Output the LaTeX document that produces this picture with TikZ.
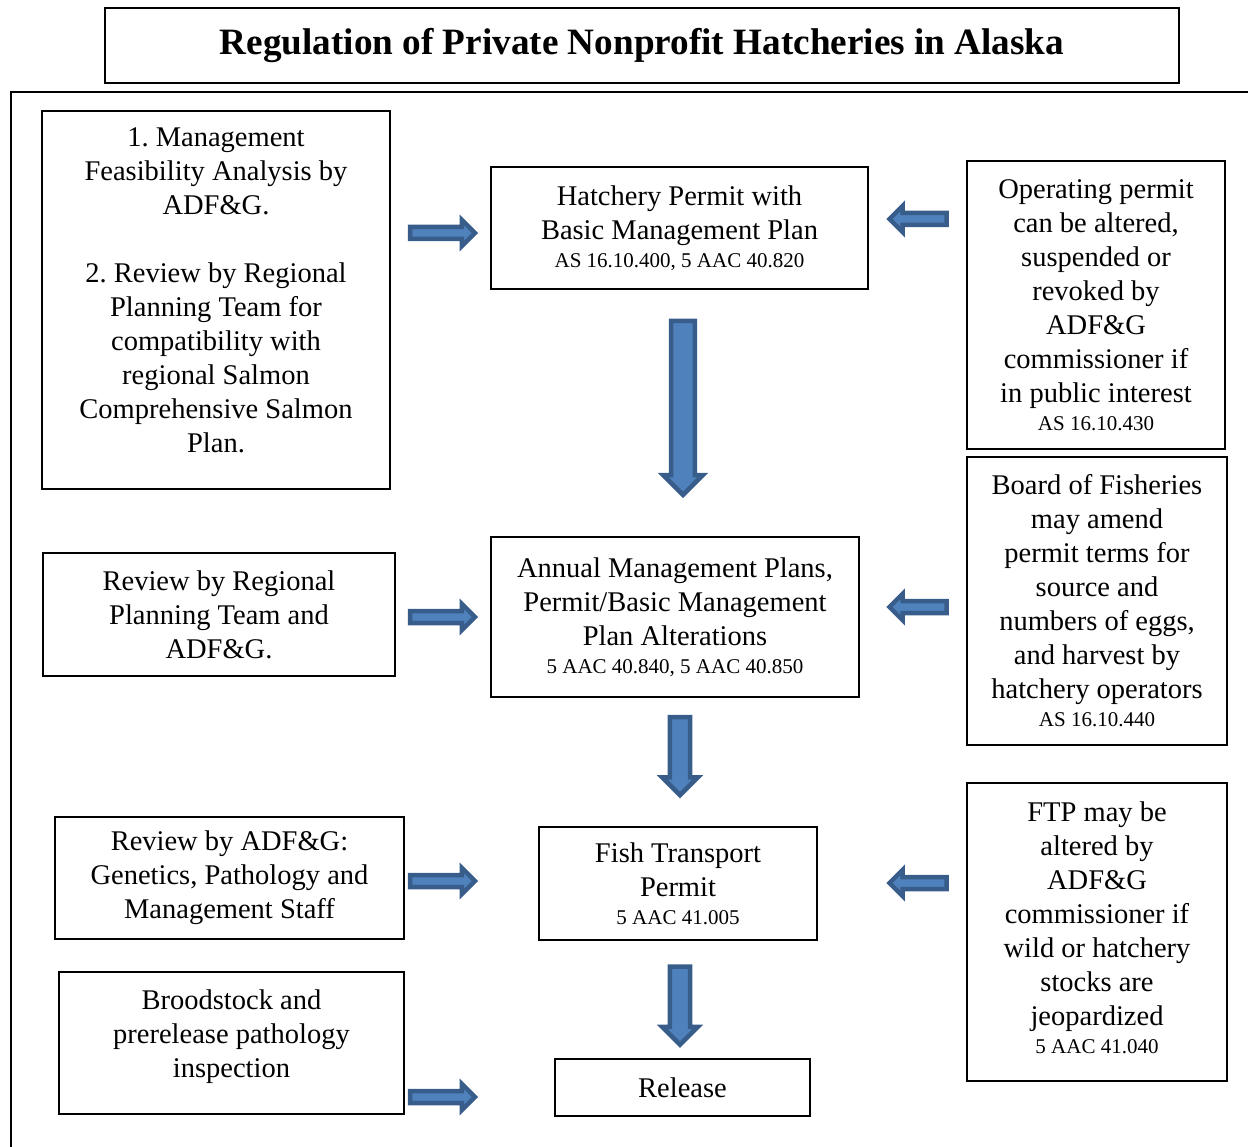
\documentclass[tikz,border=0pt]{standalone}
\usepackage{fontspec}
\setmainfont{Liberation Serif}
\usepackage{tikz}
\usepackage{xcolor}
\usetikzlibrary{shapes.arrows}
\definecolor{arrow-fill}{RGB}{79,129,189}
\definecolor{arrow-line}{RGB}{56,93,138}
\tikzset{
    plain-box/.style = {draw=black, fill=white, line width=2pt, rectangle, align=center, inner sep=0pt, font=\fontsize{28.5}{34}\selectfont},
    title-box/.style = {draw=black, line width=2pt, rectangle, inner sep=0pt, font=\fontsize{37.2}{44}\selectfont\bfseries},
    block-arrow/.style = {single arrow, draw=arrow-line, fill=arrow-fill, line width=4.5pt, inner sep=3.75pt, minimum width=19.5pt, minimum height=65pt, single arrow tip angle=90},
    down-arrow/.style = {block-arrow, rotate=270, inner sep=7.25pt, minimum width=35.5pt, minimum height=78pt},
}
\newcommand{\lawref}[1]{\\[-6pt]{\fontsize{21}{25}\selectfont #1}}

\begin{document}
\frenchspacing
\begin{tikzpicture}[x=1pt, y=-1pt]
\useasboundingbox (0,0) rectangle (1248,1147);
\node[title-box, minimum width=1074, minimum height=75] (title) at (642,45.5) {Regulation of Private Nonprofit Hatcheries in Alaska};
\draw[line width=2pt] (11,1147) -- (11,92) -- (1248,92);

\node[plain-box, minimum width=348, minimum height=378] (feasibility) at (216,300) {1. Management\\ Feasibility Analysis by\\ ADF\&G.\\[34pt] 2. Review by Regional\\ Planning Team for\\ compatibility with\\ regional Salmon\\ Comprehensive Salmon\\ Plan.\\[-14pt]};
\node[plain-box, minimum width=377, minimum height=122] (permit) at (679.5,228) {Hatchery Permit with\\ Basic Management Plan\lawref{AS 16.10.400, 5 AAC 40.820}};
\node[plain-box, minimum width=258, minimum height=288] (operating) at (1096,305) {Operating permit\\ can be altered,\\ suspended or\\ revoked by\\ ADF\&G\\ commissioner if\\ in public interest\lawref{AS 16.10.430}};

\node[plain-box, minimum width=352, minimum height=123] (rpt-review) at (219,614.5) {Review by Regional\\ Planning Team and\\ ADF\&G.};
\node[plain-box, minimum width=368, minimum height=160] (annual) at (675,617) {Annual Management Plans,\\ Permit/Basic Management\\ Plan Alterations\lawref{5 AAC 40.840, 5 AAC 40.850}};
\node[plain-box, minimum width=260, minimum height=288] (fisheries) at (1097,601) {Board of Fisheries\\ may amend\\ permit terms for\\ source and\\ numbers of eggs,\\ and harvest by\\ hatchery operators\lawref{AS 16.10.440}};

\node[plain-box, minimum width=349, minimum height=122] (adfg-review) at (229.5,878) {Review by ADF\&G:\\ Genetics, Pathology and\\ Management Staff};
\node[plain-box, minimum width=278, minimum height=113] (transport) at (678,883.5) {Fish Transport\\ Permit\lawref{5 AAC 41.005}};
\node[plain-box, minimum width=260, minimum height=298] (ftp-alter) at (1097,932) {FTP may be\\ altered by\\ ADF\&G\\ commissioner if\\ wild or hatchery\\ stocks are\\ jeopardized\lawref{5 AAC 41.040}\\[-26pt]};

\node[plain-box, minimum width=345, minimum height=142] (pathology) at (231.5,1043) {Broodstock and\\ prerelease pathology\\ inspection\\[-16pt]};
\node[plain-box, minimum width=255, minimum height=57] (release) at (682.5,1087.5) {Release};

\node[block-arrow] (to-permit) at (439.5,233) {};
\node[block-arrow] (to-annual) at (439.5,617) {};
\node[block-arrow] (to-transport) at (439.5,881) {};
\node[block-arrow] (to-release) at (439.5,1097) {};
\node[block-arrow, rotate=180, minimum height=57pt] (from-operating) at (921,219) {};
\node[block-arrow, rotate=180, minimum height=57pt] (from-fisheries) at (921,607) {};
\node[block-arrow, rotate=180, minimum height=57pt] (from-ftp-alter) at (921,883) {};
\node[down-arrow, inner sep=8.25pt, minimum width=39.5pt, minimum height=174pt] (permit-down) at (683,402) {};
\node[down-arrow] (annual-down) at (680,751) {};
\node[down-arrow] (transport-down) at (680,1000.5) {};
\end{tikzpicture}
\end{document}
